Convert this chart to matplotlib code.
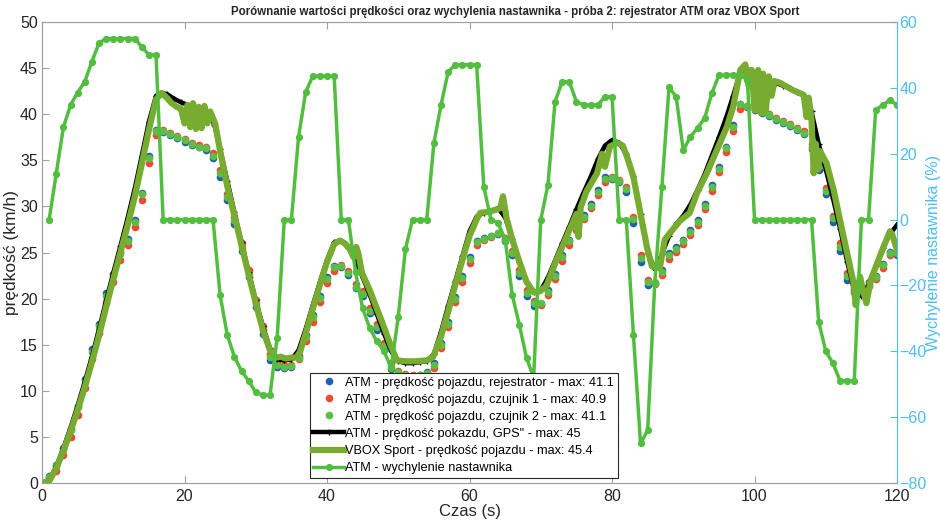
import numpy as np
from matplotlib import pyplot as plt

# ATM samples, 1 Hz
t_atm = np.arange(0, 121)
atm_rej = [0, 0.8, 1.9, 3.8, 5.9, 8.4, 11.3, 14.5, 17.3, 20.6,
           22.7, 25.1, 26.5, 28.5, 31.5, 35.5, 38.3, 38.1, 37.7, 37.4,
           37.0, 36.7, 36.4, 36.1, 35.2, 33.2, 30.7, 28.1, 25.2, 22.3,
           19.1, 16.2, 13.3, 12.6, 12.5, 12.6, 13.8, 16.0, 18.2, 20.3,
           22.3, 23.5, 23.4, 22.6, 21.1, 20.3, 18.4, 16.6, 14.6, 12.4,
           11.8, 11.6, 11.6, 11.7, 12.0, 13.0, 15.2, 17.5, 20.2, 22.4,
           24.5, 26.3, 26.6, 26.8, 27.0, 26.2, 24.7, 22.5, 20.3, 19.2,
           19.4, 20.9, 22.7, 24.7, 26.4, 28.0, 29.1, 30.3, 31.8, 33.2,
           33.0, 32.7, 31.6, 28.2, 24.0, 21.5, 21.7, 23.1, 24.9, 25.6,
           26.4, 27.4, 28.5, 30.3, 32.3, 34.3, 36.5, 38.8, 41.1, 40.8,
           40.5, 40.1, 39.8, 39.4, 39.1, 38.7, 38.3, 37.9, 36.2, 34.0,
           31.3, 28.3, 25.2, 22.0, 20.7, 21.1, 21.8, 22.5, 23.8, 25.1,
           24.7]
atm_c1 = [0, 0.5, 1.3, 3.0, 5.0, 7.4, 10.3, 13.4, 16.3, 19.5,
          21.8, 24.2, 25.8, 27.8, 30.7, 34.7, 37.7, 38.3, 38.0, 37.6,
          37.3, 36.9, 36.7, 36.5, 35.8, 33.9, 31.4, 28.9, 26.0, 23.1,
          19.9, 17.0, 14.0, 13.0, 12.8, 12.8, 13.4, 15.4, 17.5, 19.6,
          21.7, 23.0, 23.6, 23.0, 21.6, 20.8, 19.0, 17.2, 15.2, 13.0,
          12.2, 11.8, 11.7, 11.7, 11.8, 12.5, 14.6, 16.9, 19.6, 21.8,
          23.9, 25.8, 26.4, 26.7, 27.1, 26.6, 25.2, 23.1, 20.9, 19.7,
          19.3, 20.4, 22.1, 24.1, 25.8, 27.4, 28.6, 29.8, 31.2, 32.7,
          33.2, 32.9, 32.1, 28.9, 24.7, 22.0, 21.6, 22.6, 24.3, 25.1,
          25.9, 26.9, 28.0, 29.7, 31.7, 33.7, 35.9, 38.2, 40.6, 40.9,
          40.6, 40.3, 40.0, 39.6, 39.3, 38.9, 38.5, 38.2, 36.8, 34.7,
          32.0, 29.0, 26.0, 22.8, 21.2, 20.9, 21.4, 22.1, 23.3, 24.7,
          25.0]
atm_c2 = [0, 0.7, 1.8, 3.6, 5.7, 8.2, 11.0, 14.2, 17.0, 20.3,
          22.4, 24.8, 26.3, 28.3, 31.3, 35.3, 38.2, 38.2, 37.9, 37.5,
          37.2, 36.8, 36.5, 36.3, 35.5, 33.6, 31.0, 28.5, 25.6, 22.7,
          19.5, 16.6, 13.7, 12.8, 12.6, 12.7, 13.6, 15.8, 18.0, 20.1,
          22.1, 23.4, 23.5, 22.8, 21.3, 20.5, 18.7, 16.9, 14.9, 12.7,
          12.0, 11.7, 11.6, 11.7, 11.9, 12.8, 15.0, 17.3, 20.0, 22.2,
          24.3, 26.1, 26.5, 26.8, 27.1, 26.4, 25.0, 22.8, 20.6, 19.5,
          19.5, 20.7, 22.5, 24.5, 26.2, 27.8, 28.9, 30.1, 31.6, 33.0,
          33.1, 32.8, 31.9, 28.6, 24.4, 21.8, 21.7, 22.9, 24.7, 25.4,
          26.2, 27.2, 28.3, 30.1, 32.1, 34.1, 36.3, 38.6, 41.1, 40.9,
          40.6, 40.2, 39.9, 39.5, 39.2, 38.8, 38.4, 38.0, 36.5, 34.4,
          31.7, 28.7, 25.6, 22.4, 20.9, 21.1, 21.6, 22.3, 23.6, 25.0,
          24.9]

# GPS speed (ATM)
t_gps = [0, 1, 2, 3, 4, 5, 6, 7, 8, 9, 10, 11, 12, 13, 14, 15, 16, 16.7, 17.5, 18.5,
         19.5, 20.5, 21.5, 22.5, 23.5, 24.2, 25, 26, 27, 28, 29, 30, 31, 32, 33, 34,
         35, 36, 37, 38, 39, 40, 41, 42, 43, 44, 45, 46, 47, 48, 49, 50, 51, 52, 53,
         54, 55, 56, 57, 58, 59, 60, 61, 62, 63, 64, 65, 66, 67, 68, 69, 70, 71, 72,
         73, 74, 75, 76, 77, 78, 79, 80, 81, 82, 83, 84, 85, 86, 87, 88, 89, 90, 91,
         92, 93, 94, 95, 96, 97, 98, 98.8, 100, 101, 102, 103, 104, 105, 106, 107,
         108, 109, 110, 111, 112, 113, 114, 115, 116, 117, 118, 119, 120]
v_gps = [0, 0.3, 1.8, 3.8, 6.0, 8.4, 11.0, 13.7, 16.7, 19.8, 22.8, 25.7, 28.7, 31.9,
         35.5, 39.2, 42.0, 42.3, 42.2, 41.7, 41.3, 41.0, 40.7, 40.5, 40.0, 38.8, 36.2,
         32.8, 29.4, 26.1, 22.9, 19.8, 17.0, 14.6, 13.4, 13.3, 13.4, 14.4, 16.7, 19.3,
         21.8, 24.2, 26.1, 26.3, 25.5, 24.2, 22.3, 20.4, 18.3, 16.2, 14.3, 13.2, 13.0,
         13.0, 13.1, 13.2, 14.0, 16.4, 19.2, 21.9, 24.6, 27.3, 28.9, 29.3, 29.5, 29.8,
         28.8, 26.5, 24.0, 21.8, 20.7, 20.9, 22.3, 24.1, 26.0, 27.8, 29.7, 31.5, 33.2,
         35.1, 36.6, 37.2, 36.9, 35.7, 33.3, 29.2, 25.0, 23.2, 24.8, 26.8, 28.1, 29.0,
         30.2, 31.8, 33.5, 35.5, 37.5, 39.6, 42.0, 44.6, 45.0, 44.4, 44.0, 43.7, 43.4,
         43.1, 42.8, 42.4, 42.0, 40.3, 36.8, 34.0, 30.9, 27.6, 24.0, 20.8, 20.3, 21.5,
         23.5, 25.5, 27.0, 28.0]

# VBOX Sport speed
t_vbox = [0, 1, 2, 3, 4, 5, 6, 7, 8, 9,
          10, 11, 12, 13, 14, 15, 16, 16.8, 17.5, 18.2,
          18.9, 19.5, 20.0, 20.4, 20.8, 21.2, 21.6, 22.0, 22.4, 22.8,
          23.2, 23.6, 24.3, 25, 26, 27, 28, 29, 30, 31,
          32, 32.9, 33.5, 34.2, 35, 35.7, 36.2, 37, 38, 39,
          40, 41, 41.8, 42.5, 43.2, 43.7, 44.1, 44.4, 44.9, 46,
          47, 48, 49, 49.8, 51, 52.5, 54, 54.9, 56, 57,
          58, 59, 60, 61, 61.5, 62.5, 63.5, 64.3, 64.7, 65.2,
          66, 67, 68, 69, 69.9, 70.8, 72, 73, 74, 75,
          75.3, 75.6, 76.4, 77.9, 78.6, 79.0, 79.7, 80.7, 81.5, 82.1,
          83, 83.9, 84.9, 85.6, 86.7, 87.4, 88.1, 89.5, 90.9, 91.9,
          93.3, 94.7, 96.1, 97, 98, 98.7, 99.2, 99.6, 100.0, 100.5,
          100.9, 101.2, 101.6, 102, 102.4, 102.8, 103.6, 105.4, 106.9, 107.3,
          107.6, 108, 108.3, 108.6, 108.9, 109.2, 110.1, 111.1, 112, 112.9,
          113.9, 114.2, 114.8, 115.2, 115.7, 116.3, 117.2, 118.1, 119.0, 119.3,
          120]
v_vbox = [0, 0.2, 1.6, 3.5, 5.6, 7.9, 10.4, 13.1, 16.0, 19.1,
          22.1, 25.0, 27.9, 31.0, 34.6, 38.3, 41.6, 42.3, 41.8, 41.2,
          40.8, 40.6, 39.0, 41.0, 38.6, 41.2, 38.4, 40.8, 38.5, 40.9,
          39.0, 40.3, 39.0, 36.0, 32.2, 29.0, 25.8, 22.6, 19.5, 16.6,
          14.4, 13.6, 13.7, 13.5, 13.6, 13.6, 14.2, 16.2, 18.9, 21.5,
          24.0, 25.9, 26.3, 26.0, 25.4, 24.5, 25.6, 24.9, 22.8, 20.9,
          18.9, 16.9, 14.8, 13.3, 13.2, 13.2, 13.3, 13.7, 15.9, 18.6,
          21.5, 24.2, 26.8, 28.6, 29.3, 29.4, 29.6, 29.8, 31.1, 28.7,
          26.4, 24.0, 21.8, 20.7, 20.8, 21.4, 23.8, 25.6, 27.4, 29.2,
          26.7, 29.9, 31.6, 33.6, 35.7, 34.3, 36.5, 36.9, 36.6, 35.4,
          33.2, 29.6, 25.6, 23.5, 23.3, 26.4, 27.1, 28.4, 29.3, 31.4,
          33.6, 36.1, 38.6, 40.8, 44.8, 45.4, 43.0, 44.8, 40.5, 44.8,
          40.1, 44.4, 40.5, 44.1, 42.0, 43.6, 43.4, 42.6, 42.1, 39.7,
          41.8, 39.4, 33.6, 36.8, 34.0, 36.0, 34.7, 31.8, 28.5, 25.3,
          21.7, 19.3, 22.4, 21.0, 19.5, 22.0, 23.8, 25.6, 27.3, 27.0,
          25.3]

# wychylenie nastawnika (%), 1 Hz
t_nast = np.arange(1, 121)
nast = [0, 14, 28, 34.8, 38.6, 41.9, 48, 53.6, 55, 55,
        55, 55, 55, 52.5, 50, 50, 0, 0, 0, 0,
        0, 0, 0, 0, -23, -35, -41.7, -46, -49, -52.5,
        -53.3, -53.3, -36, 0, 0, 25, 38.7, 43.6, 43.6, 43.6,
        43.6, 0, 0, -16, -27, -33, -37, -40, -45, -29.5,
        -9, 0, 0, 0, 23.3, 34.8, 44.9, 47, 47, 47,
        47, 10, 0, -1, -6, -23, -32, -42, -48, 0,
        10.5, 35.8, 41.9, 41.9, 35.8, 34.8, 34.8, 34.8, 37.3, 37.3,
        0, 0, -35, -68, -64, -19, 10, 40.2, 37.3, 21,
        25.2, 27.8, 30.8, 38.3, 43.9, 43.9, 43.9, 43.9, 42.4, 0,
        0, 0, 0, 0, 0, 0, 0, 0, -31, -40,
        -43.6, -48.9, -48.9, -48.9, 0, 0, 33.3, 34.8, 36.3, 34.8]

plt.rcParams['font.family'] = ['Liberation Sans', 'DejaVu Sans']

fig = plt.figure(figsize=(9.4, 5.25), dpi=100)
ax = fig.add_axes([0.0447, 0.08, 0.9096, 0.878])
ax2 = ax.twinx()

h1, = ax.plot(t_atm, atm_rej, 'o', color='#1f5fb0', ms=5.5, mec='none',
              label='ATM - prędkość pojazdu, rejestrator - max: 41.1')
h2, = ax.plot(t_atm, atm_c1, 'o', color='#f04a33', ms=5.5, mec='none',
              label='ATM - prędkość pojazdu, czujnik 1 - max: 40.9')
h3, = ax.plot(t_atm, atm_c2, 'o', color='#5cbf45', ms=5.5, mec='none',
              label='ATM - prędkość pojazdu, czujnik 2 - max: 41.1')
h4, = ax.plot(t_gps, v_gps, '-+', color='black', lw=3.2, ms=4,
              label='ATM - prędkość pokazdu, GPS" - max: 45')
h5, = ax.plot(t_vbox, v_vbox, '-', color='#77ac30', lw=4.5,
              label='VBOX Sport - prędkość pojazdu - max: 45.4')
h6, = ax2.plot(t_nast, nast, '-o', color='#52bd3e', lw=2.5, ms=4.2,
               label='ATM - wychylenie nastawnika')

ax.set_xlim(0, 120)
ax.set_ylim(0, 50)
ax.set_xticks(np.arange(0, 121, 20))
ax.set_yticks(np.arange(0, 51, 5))
ax2.set_ylim(-80, 60)
ax2.set_yticks(np.arange(-80, 61, 20))

grey = '#262626'
blue = '#4dbeee'
for s in ['left', 'bottom', 'top']:
    ax.spines[s].set_color('#a0a0a0')
    ax2.spines[s].set_color('#a0a0a0')
ax.spines['right'].set_visible(False)
ax2.spines['right'].set_color(blue)
ax.tick_params(axis='both', direction='in', length=5, labelsize=11.5,
               colors=grey, top=True, right=False, pad=3)
ax.tick_params(axis='x', color='#a0a0a0', pad=4)
ax.tick_params(axis='y', color='#a0a0a0')
ax2.tick_params(axis='y', direction='in', length=5, labelsize=11.5,
                colors=blue, pad=1.5)

ax.set_xlabel('Czas (s)', fontsize=12, color=grey, labelpad=0)
ax.set_ylabel('prędkość (km/h)', fontsize=12.5, color=grey, labelpad=1)
ax2.set_ylabel('Wychylenie nastawnika (%)', fontsize=11.5, color=blue, labelpad=0)

ax.set_title('Porównanie wartości prędkości oraz wychylenia nastawnika - próba 2: '
             'rejestrator ATM oraz VBOX Sport', fontsize=8.3, fontweight='bold',
             color=grey, pad=5, x=0.554)

leg = ax2.legend(handles=[h1, h2, h3, h4, h5, h6], loc='lower left',
                 bbox_to_anchor=(0.313, 0.011), fontsize=9.2, numpoints=1,
                 handlelength=2.4, handletextpad=0.1, labelspacing=0.4,
                 borderpad=0.3, borderaxespad=0, fancybox=False, framealpha=1)
leg.get_frame().set_edgecolor(grey)
leg.get_frame().set_linewidth(0.8)

fig.savefig('out.png', dpi=100)
